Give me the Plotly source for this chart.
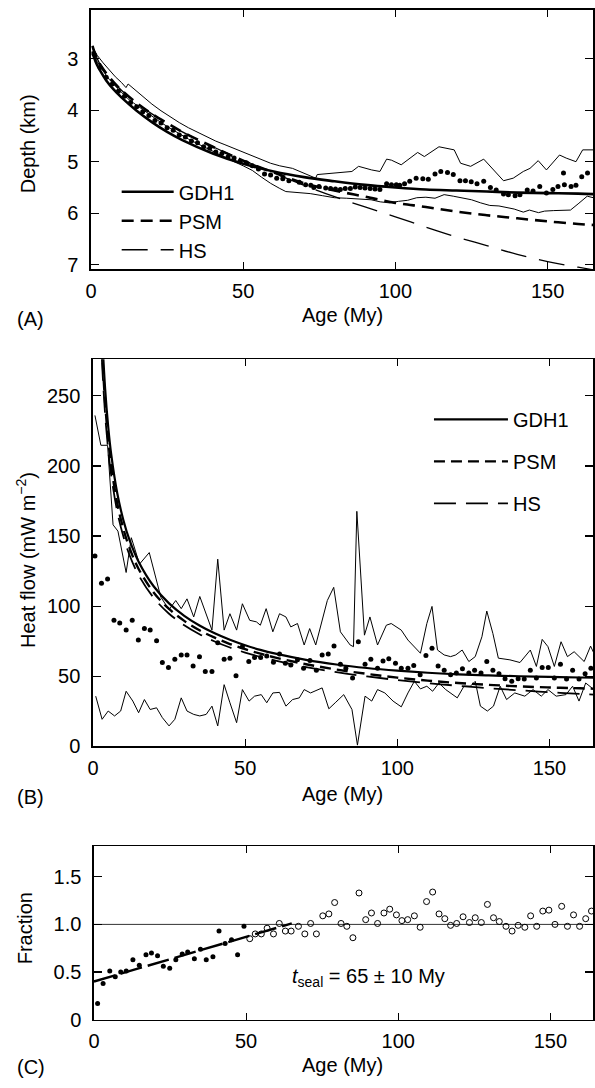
import plotly.graph_objects as go

# ---------------- Panel A: depth ----------------
a_dot_age = [1, 3, 5, 7, 9, 11, 13, 15, 17, 19, 21, 23, 25, 27, 29, 31, 33, 35, 37, 39,
             41, 43, 45, 47, 49, 51, 53, 55, 57, 59, 61, 63, 65,
             68.4, 70.5, 72.2, 73.2, 74.9, 77.1, 78.7, 80.3, 81.9, 83.5, 85.2, 86.8, 88.4,
             90.0, 91.7, 93.3, 94.9, 97.1, 98.7, 100.3, 101.4, 103.0, 104.7, 106.8, 109.0,
             110.8, 113.0, 114.9, 117.1, 119.0, 121.2, 123.0, 124.9, 126.8, 129.0, 131.2,
             133.1, 135.5, 137.1, 139.3, 140.9, 143.3, 145.2, 147.4, 149.6, 151.7, 153.4,
             155.5, 155.2, 157.7, 159.3, 161.2, 163.1]
a_dot_depth = [2.91, 3.17, 3.36, 3.49, 3.63, 3.73, 3.85, 3.93, 4.03, 4.10, 4.20, 4.25, 4.34,
               4.39, 4.48, 4.52, 4.60, 4.63, 4.71, 4.74, 4.81, 4.84, 4.91, 4.93, 4.99, 5.02,
               5.08, 5.14, 5.24, 5.26, 5.32, 5.33, 5.37,
               5.40, 5.45, 5.46, 5.50, 5.48, 5.51, 5.52, 5.53, 5.54, 5.52, 5.52, 5.49, 5.50,
               5.51, 5.52, 5.53, 5.54, 5.43, 5.45, 5.45, 5.46, 5.43, 5.38, 5.32, 5.33,
               5.34, 5.24, 5.19, 5.21, 5.25, 5.37, 5.37, 5.39, 5.43, 5.38, 5.50,
               5.55, 5.63, 5.64, 5.66, 5.64, 5.55, 5.57, 5.48, 5.61, 5.54, 5.48,
               5.45, 5.22, 5.48, 5.46, 5.29, 5.22]

a_up_age = [0.5, 2, 4, 6, 8, 10, 11.5, 12.2, 14, 17, 20, 23, 26, 29, 32, 35, 38, 41, 44, 47,
            50, 53, 56, 59, 62, 66.2, 73.8, 74.3, 85.7, 87.9, 92.2, 94.9, 97.1, 98.7, 101.9,
            107.3, 109.5, 114.3, 119.3, 121.4, 124.7, 129.0, 135.5, 138.7, 142.0, 144.2,
            146.9, 149.6, 153.9, 156.1, 159.3, 161.5, 165]
a_up_depth = [2.76, 2.93, 3.08, 3.22, 3.35, 3.46, 3.56, 3.49, 3.58, 3.74, 3.88, 4.01, 4.13,
              4.24, 4.34, 4.43, 4.52, 4.60, 4.67, 4.74, 4.82, 4.89, 4.96, 5.03, 5.08, 5.13,
              5.32, 5.25, 5.19, 5.09, 5.16, 5.19, 4.95, 4.97, 5.06, 4.82, 4.90, 4.71, 4.77,
              5.03, 5.09, 4.95, 5.37, 5.32, 5.19, 5.13, 4.98, 5.16, 4.87, 4.93, 5.00, 4.77, 4.77]

a_lo_age = [0.5, 2, 4, 6, 8, 10, 12, 14, 17, 20, 23, 26, 29, 32, 35, 38, 41, 44, 47, 50, 53,
            56, 59, 62, 64, 68, 72, 76, 80, 84, 88, 92, 95, 98, 101, 104, 107, 110, 113, 116,
            119, 122, 125, 128, 131, 134, 136, 139, 142, 144, 147, 149, 152, 155, 157.5, 160,
            163, 165]
a_lo_depth = [2.86, 3.05, 3.24, 3.40, 3.53, 3.66, 3.77, 3.86, 3.99, 4.12, 4.24, 4.35, 4.46,
              4.56, 4.65, 4.74, 4.83, 4.92, 5.00, 5.08, 5.17, 5.30, 5.42, 5.52, 5.58, 5.60,
              5.62, 5.66, 5.70, 5.71, 5.72, 5.74, 5.78, 5.80, 5.77, 5.75, 5.70, 5.69, 5.71,
              5.64, 5.67, 5.70, 5.74, 5.80, 5.85, 5.86, 5.89, 5.92, 5.98, 5.94, 5.99, 5.96,
              5.95, 5.95, 5.94, 5.82, 5.67, 5.70]

a_model_age = [0.5, 1, 2, 3, 5, 7.5, 10, 15, 20, 25, 30, 40, 50, 60, 70, 80, 90, 100, 110,
               120, 130, 140, 150, 160, 165]
a_gdh1 = [2.86, 2.97, 3.12, 3.23, 3.42, 3.60, 3.75, 4.01, 4.23, 4.42, 4.58, 4.84, 5.04, 5.19,
          5.30, 5.38, 5.45, 5.50, 5.54, 5.56, 5.58, 5.60, 5.61, 5.62, 5.63]
a_psm = [2.75, 2.85, 3.00, 3.11, 3.28, 3.46, 3.61, 3.86, 4.07, 4.25, 4.42, 4.71, 4.98, 5.21,
         5.42, 5.56, 5.68, 5.80, 5.88, 5.97, 6.04, 6.10, 6.16, 6.21, 6.23]
a_hs = [2.75, 2.85, 2.99, 3.11, 3.28, 3.46, 3.61, 3.86, 4.07, 4.25, 4.42, 4.71, 4.97, 5.22,
        5.46, 5.68, 5.88, 6.07, 6.27, 6.46, 6.63, 6.80, 6.94, 7.05, 7.10]

# ---------------- Panel B: heat flow ----------------
b_dot_age = [0.65, 2.8, 4.8, 6.9, 8.8, 10.9, 12.9, 14.9, 16.9, 18.8, 20.9, 22.8, 24.8, 26.9,
             29.0, 30.9, 32.9, 35.0, 36.9, 39.1, 41.0, 43.1, 45.0, 47.0, 49.1, 51.2, 53.1,
             55.1, 57.1, 59.3, 61.3, 63.2, 65.0, 67.2, 69.2, 71.3, 73.4, 75.3, 77.3, 79.2,
             81.3, 83.1, 85.3, 87.2, 89.4, 91.3, 93.5, 95.3, 97.2, 99.4, 101.3, 103.5, 105.4,
             107.5, 109.4, 111.4, 113.4, 115.4, 117.5, 119.4, 121.4, 123.5, 125.4, 127.5,
             129.4, 131.4, 133.4, 135.4, 137.6, 139.7, 141.7, 143.7, 145.7, 147.6, 149.6,
             151.6, 153.6, 155.6, 157.6, 159.7, 161.7, 163.6]
b_dot_hf = [135.8, 116.3, 119.4, 89.9, 88.0, 82.9, 89.9, 75.8, 84.0, 82.9, 75.3, 59.8, 56.3,
            62.1, 65.2, 65.2, 57.4, 64.0, 53.4, 53.4, 73.9, 62.1, 62.8, 50.4, 71.1, 60.5,
            63.3, 63.3, 64.5, 60.0, 65.9, 59.3, 58.1, 61.7, 55.8, 61.2, 54.2, 65.2, 65.9,
            71.5, 58.6, 55.8, 48.7, 74.6, 58.6, 62.1, 55.8, 60.9, 62.4, 59.3, 55.8, 55.8,
            57.7, 51.1, 64.8, 69.9, 57.4, 54.2, 51.1, 52.3, 55.3, 52.3, 54.2, 52.3, 60.5,
            54.2, 51.8, 48.2, 46.4, 48.2, 48.0, 54.2, 48.7, 56.3, 56.3, 48.7, 58.6, 48.0,
            54.2, 48.0, 51.8, 55.8]

b_up_age = [0.65, 2.6, 4.8, 6.6, 8.2, 10.9, 12.6, 15.3, 18.5, 22.3, 25.0, 27.2, 29.0, 30.9,
            33.1, 35.1, 39.1, 41.0, 43.1, 45.0, 47.2, 49.1, 51.5, 53.7, 55.0, 56.9, 59.1,
            61.3, 63.4, 65.0, 67.2, 69.4, 71.2, 73.2, 77.0, 79.1, 81.3, 84.5, 85.6, 86.7,
            89.2, 91.0, 93.5, 96.4, 98.0, 101.3, 103.5, 105.6, 107.6, 109.7, 111.4, 113.2,
            115.4, 117.5, 119.2, 121.3, 123.5, 125.6, 127.8, 129.4, 131.4, 133.2, 137.0,
            140.3, 143.7, 145.7, 147.6, 149.5, 151.6, 153.8, 155.9, 158.1, 161.4, 163.5, 164.6]
b_up_hf = [236.0, 214.7, 214.7, 158.0, 153.5, 124.0, 148.8, 130.0, 138.2, 106.4, 97.5, 104.0,
           98.2, 105.2, 92.3, 106.9, 82.9, 133.5, 82.9, 94.6, 82.9, 101.7, 89.9, 88.8, 86.4,
           98.2, 81.7, 94.6, 92.3, 85.2, 87.6, 72.3, 84.0, 72.3, 104.0, 113.4, 81.7, 72.3,
           71.1, 167.6, 79.3, 92.3, 72.3, 86.4, 87.6, 82.9, 75.8, 71.1, 66.4, 87.6, 99.8,
           68.7, 65.2, 64.0, 65.2, 68.7, 60.5, 64.0, 78.2, 96.5, 80.5, 62.9, 61.7, 59.8,
           68.7, 57.0, 76.3, 71.1, 57.0, 74.6, 64.0, 67.5, 60.5, 71.5, 66.4]

b_lo_age = [0.9, 3.0, 5.0, 7.1, 9.1, 10.9, 13.1, 15.0, 16.9, 18.8, 20.9, 22.8, 25.0, 26.9,
            29.0, 30.9, 33.1, 35.1, 37.2, 39.1, 41.0, 43.1, 45.0, 47.2, 49.1, 51.3, 53.1,
            55.3, 57.1, 59.1, 61.3, 63.4, 65.6, 67.8, 69.4, 71.5, 75.3, 77.5, 79.6, 82.4,
            85.1, 86.9, 89.4, 91.6, 93.5, 95.9, 98.6, 101.3, 103.5, 105.6, 107.6, 109.7,
            111.6, 113.7, 115.9, 118.1, 119.7, 121.9, 124.0, 125.6, 127.3, 129.6, 131.6,
            133.8, 135.9, 138.6, 141.9, 144.6, 147.3, 149.5, 152.2, 155.4, 157.6, 159.7,
            161.9, 164.6]
b_lo_hf = [35.8, 19.3, 25.2, 21.7, 25.2, 39.3, 32.3, 24.0, 33.4, 26.3, 27.5, 20.5, 14.6,
           19.3, 34.6, 25.2, 22.8, 21.7, 22.8, 28.7, 14.6, 44.0, 31.1, 16.9, 40.5, 32.3,
           35.8, 36.9, 31.1, 38.1, 38.5, 28.7, 33.4, 34.6, 40.5, 38.1, 41.7, 26.8, 31.1,
           36.9, 26.3, 0.9, 35.8, 32.3, 40.5, 38.1, 32.3, 28.2, 38.1, 46.4, 41.0, 42.9,
           39.3, 45.2, 40.5, 36.9, 34.6, 42.9, 42.9, 46.4, 28.7, 25.2, 28.7, 42.9, 33.4,
           38.1, 35.8, 40.5, 35.8, 40.5, 35.8, 36.9, 42.9, 32.3, 45.2, 40.5]

b_model_age = [2.5, 3, 4, 5, 6, 8, 10, 12, 15, 20, 25, 30, 35, 40, 45, 50, 55, 60, 70, 80,
               90, 100, 110, 120, 130, 140, 150, 160, 165]
b_gdh1 = [322.6, 294.4, 255.0, 228.1, 208.2, 180.3, 161.3, 147.2, 131.7, 114.0, 102.0, 93.1,
          86.2, 80.6, 76.0, 72.1, 68.8, 66.1, 61.7, 58.4, 55.9, 54.0, 52.5, 51.4, 50.6, 50.0,
          49.5, 49.1, 49.0]
b_psm = [310.0, 283.0, 245.0, 219.0, 200.0, 173.0, 155.0, 141.5, 126.5, 109.6, 98.0, 89.5,
         82.8, 77.5, 73.0, 69.3, 66.1, 63.3, 58.6, 54.8, 51.7, 49.0, 46.9, 45.2, 43.9, 42.8,
         42.0, 41.4, 41.1]
b_hs = [299.2, 273.1, 236.5, 211.5, 193.1, 167.2, 149.6, 136.5, 122.1, 105.8, 94.6, 86.4,
        80.0, 74.8, 70.5, 66.9, 63.8, 61.1, 56.5, 52.9, 49.9, 47.3, 45.1, 43.2, 41.5, 40.0,
        38.6, 37.4, 36.8]

# ---------------- Panel C: fraction ----------------
c_fill_age = [1.2, 3.0, 5.2, 7.0, 8.8, 10.6, 12.8, 14.9, 17.1, 18.9, 20.9, 22.8, 24.9, 26.9,
              29.0, 30.8, 33.0, 35.0, 36.9, 39.1, 41.1, 43.1, 45.2, 47.2, 49.3]
c_fill_frac = [0.17, 0.38, 0.51, 0.45, 0.50, 0.51, 0.63, 0.57, 0.68, 0.70, 0.67, 0.56, 0.54,
               0.63, 0.69, 0.71, 0.64, 0.74, 0.63, 0.66, 0.93, 0.80, 0.84, 0.68, 0.98]
c_open_age = [51.2, 53.0, 55.0, 56.9, 59.0, 60.9, 62.9, 64.8, 67.2, 69.3, 71.2, 73.1, 75.2,
              77.2, 79.1, 81.2, 83.1, 85.1, 87.1, 89.3, 91.2, 93.2, 95.3, 97.2, 99.4, 101.2,
              103.1, 105.3, 107.2, 109.3, 111.3, 113.4, 115.3, 117.2, 119.2, 121.3, 123.4,
              125.3, 127.3, 129.3, 131.3, 133.2, 135.4, 137.4, 139.4, 141.6, 143.5, 145.5,
              147.5, 149.5, 151.5, 153.7, 155.6, 157.6, 159.6, 161.6, 163.5]
c_open_frac = [0.85, 0.90, 0.90, 0.96, 0.90, 1.01, 0.93, 0.93, 0.98, 0.90, 1.01, 0.90, 1.09,
               1.11, 1.23, 1.01, 0.98, 0.86, 1.33, 1.05, 1.12, 1.01, 1.12, 1.16, 1.10, 1.04,
               1.05, 1.09, 0.97, 1.24, 1.34, 1.11, 1.06, 0.99, 1.01, 1.08, 1.02, 1.07, 1.02,
               1.21, 1.07, 1.03, 0.98, 0.93, 0.99, 0.97, 1.09, 0.98, 1.14, 1.15, 1.00, 1.19,
               0.98, 1.10, 0.98, 1.06, 1.14]
c_fit_age = [0, 65]
c_fit_frac = [0.40, 1.01]
c_ref_age = [0, 165]
c_ref_frac = [1.0, 1.0]

x_ticks = [0, 50, 100, 150]
a_yticks = [3, 4, 5, 6, 7]
b_yticks = [0, 50, 100, 150, 200, 250]
c_yticks = [0, 0.5, 1.0, 1.5]
c_yticktext = ["0", "0.5", "1.0", "1.5"]

FONT = "Liberation Sans, Arial, Helvetica, sans-serif"
FS = 20
BLK = "black"

fig = go.Figure()

# Panel A
fig.add_trace(go.Scatter(x=a_up_age, y=a_up_depth, mode="lines", line=dict(color=BLK, width=1),
                         showlegend=False, xaxis="x", yaxis="y"))
fig.add_trace(go.Scatter(x=a_lo_age, y=a_lo_depth, mode="lines", line=dict(color=BLK, width=1),
                         showlegend=False, xaxis="x", yaxis="y"))
fig.add_trace(go.Scatter(x=a_dot_age, y=a_dot_depth, mode="markers",
                         marker=dict(color=BLK, size=5), showlegend=False, xaxis="x", yaxis="y"))
fig.add_trace(go.Scatter(x=a_model_age, y=a_gdh1, mode="lines", name="GDH1",
                         line=dict(color=BLK, width=2.6, shape="spline"),
                         legend="legend", xaxis="x", yaxis="y"))
fig.add_trace(go.Scatter(x=a_model_age, y=a_psm, mode="lines", name="PSM",
                         line=dict(color=BLK, width=2.6, dash="12px,7px", shape="spline"),
                         legend="legend", xaxis="x", yaxis="y"))
fig.add_trace(go.Scatter(x=a_model_age, y=a_hs, mode="lines", name="HS",
                         line=dict(color=BLK, width=1.3, dash="26px,13px", shape="spline"),
                         legend="legend", xaxis="x", yaxis="y"))

# Panel B
fig.add_trace(go.Scatter(x=b_up_age, y=b_up_hf, mode="lines", line=dict(color=BLK, width=1),
                         showlegend=False, xaxis="x2", yaxis="y2"))
fig.add_trace(go.Scatter(x=b_lo_age, y=b_lo_hf, mode="lines", line=dict(color=BLK, width=1),
                         showlegend=False, xaxis="x2", yaxis="y2"))
fig.add_trace(go.Scatter(x=b_dot_age, y=b_dot_hf, mode="markers",
                         marker=dict(color=BLK, size=5), showlegend=False,
                         xaxis="x2", yaxis="y2"))
fig.add_trace(go.Scatter(x=b_model_age, y=b_gdh1, mode="lines", name="GDH1",
                         line=dict(color=BLK, width=2.2, shape="spline"),
                         legend="legend2", legendgroup="g1", xaxis="x2", yaxis="y2"))
fig.add_trace(go.Scatter(x=b_model_age, y=b_psm, mode="lines", name="PSM",
                         line=dict(color=BLK, width=2.4, dash="11px,6px", shape="spline"),
                         legend="legend2", legendgroup="g2", xaxis="x2", yaxis="y2"))
fig.add_trace(go.Scatter(x=b_model_age, y=b_hs, mode="lines", name="HS",
                         line=dict(color=BLK, width=1.8, dash="22px,10px", shape="spline"),
                         legend="legend2", legendgroup="g3", xaxis="x2", yaxis="y2"))

# Panel C
fig.add_trace(go.Scatter(x=c_ref_age, y=c_ref_frac, mode="lines",
                         line=dict(color="#333333", width=1), showlegend=False,
                         xaxis="x3", yaxis="y3"))
fig.add_trace(go.Scatter(x=c_fit_age, y=c_fit_frac, mode="lines",
                         line=dict(color=BLK, width=2.4, dash="22px,6px"), showlegend=False,
                         xaxis="x3", yaxis="y3"))
fig.add_trace(go.Scatter(x=c_fill_age, y=c_fill_frac, mode="markers",
                         marker=dict(color=BLK, size=5), showlegend=False,
                         xaxis="x3", yaxis="y3"))
fig.add_trace(go.Scatter(x=c_open_age, y=c_open_frac, mode="markers",
                         marker=dict(symbol="circle-open", color=BLK, size=6,
                                     line=dict(width=1, color=BLK)),
                         showlegend=False, xaxis="x3", yaxis="y3"))

W, H = 595, 1088


def px(xp):
    return xp / W


def py(yp):
    return 1 - yp / H


axis_common = dict(showline=True, linecolor=BLK, linewidth=1.6, mirror="ticks",
                   ticks="inside", tickcolor=BLK, tickwidth=1.2, showgrid=False,
                   zeroline=False, tickfont=dict(family=FONT, size=FS, color=BLK))

fig.update_layout(
    width=W, height=H,
    margin=dict(l=0, r=0, t=0, b=0),
    paper_bgcolor="white", plot_bgcolor="white",
    font=dict(family=FONT, size=FS, color=BLK),
    hovermode=False,
    xaxis=dict(domain=[px(86), px(594)], range=[0, 164.9], tickvals=x_ticks, anchor="y",
               ticklen=7, ticklabelstandoff=3, **axis_common),
    yaxis=dict(domain=[py(272), py(10)], range=[7.09, 2.05], tickvals=a_yticks, anchor="x",
               ticklen=8, ticklabelstandoff=7, **axis_common),
    xaxis2=dict(domain=[px(88), px(594)], range=[0, 164.3], tickvals=x_ticks, anchor="y2",
                ticklen=7, ticklabelstandoff=3, **axis_common),
    yaxis2=dict(domain=[py(754), py(363)], range=[0, 276], tickvals=b_yticks, anchor="x2",
                ticklen=8, ticklabelstandoff=7, **axis_common),
    xaxis3=dict(domain=[px(89), px(594)], range=[0, 164.0], tickvals=x_ticks, anchor="y3",
                ticklen=7, ticklabelstandoff=3, **axis_common),
    yaxis3=dict(domain=[py(1030), py(855)], range=[0, 1.82], tickvals=c_yticks,
                ticktext=c_yticktext, anchor="x3", ticklen=8, ticklabelstandoff=7,
                **axis_common),
    legend=dict(x=px(112), y=py(174), xanchor="left", yanchor="top", bgcolor="rgba(0,0,0,0)",
                borderwidth=0, itemwidth=52, font=dict(family=FONT, size=FS, color=BLK),
                traceorder="normal"),
    legend2=dict(x=px(428), y=py(404), xanchor="left", yanchor="top",
                 bgcolor="rgba(0,0,0,0)", borderwidth=0, itemwidth=74, tracegroupgap=13,
                 font=dict(family=FONT, size=FS, color=BLK), traceorder="grouped"),
)

ann = []
ann.append(dict(text="Depth (km)", x=px(22), y=py(145), textangle=-90))
ann.append(dict(text="Heat flow (mW m<sup>\u22122</sup>)", x=px(20), y=py(566), textangle=-90))
ann.append(dict(text="Fraction", x=px(19), y=py(938), textangle=-90))
ann.append(dict(text="Age (My)", x=px(340), y=py(318)))
ann.append(dict(text="Age (My)", x=px(341), y=py(802)))
ann.append(dict(text="Age (My)", x=px(341), y=py(1076)))
for a in ann:
    a.update(xref="paper", yref="paper", showarrow=False, xanchor="center", yanchor="middle",
             font=dict(family=FONT, size=FS, color=BLK))
for lab, yy in (("(A)", 322), ("(B)", 805), ("(C)", 1078)):
    ann.append(dict(text=lab, x=px(9), y=py(yy), xref="paper", yref="paper", showarrow=False,
                    xanchor="left", yanchor="middle", font=dict(family=FONT, size=FS, color=BLK)))
ann.append(dict(text="<i>t</i><sub>seal</sub> = 65 \u00b1 10 My", x=64.3, y=0.44,
                xref="x3", yref="y3", showarrow=False, xanchor="left", yanchor="middle",
                font=dict(family=FONT, size=FS, color=BLK)))
fig.update_layout(annotations=ann)

fig.write_html(
    "out.html",
    config={"displayModeBar": False, "staticPlot": True},
    post_script="document.body.style.margin='0';document.body.style.padding='0';"
                "document.body.style.overflow='hidden';",
)
